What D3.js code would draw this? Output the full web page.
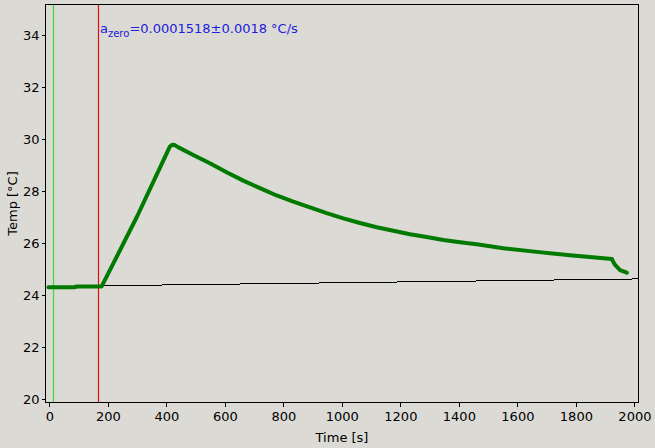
<!DOCTYPE html>
<html>
<head>
<meta charset="utf-8">
<script src="https://cdn.jsdelivr.net/npm/d3@7"></script>
<style>
  html, body { margin: 0; padding: 0; background: #dcdad5; }
  svg { display: block; font-family: "DejaVu Sans", sans-serif; }
</style>
</head>
<body>
<svg id="chart" width="655" height="448"></svg>
<script>
// ---- data ----
const timeS = [-3, 85, 95, 179, 300, 412, 420, 428, 440, 492, 549, 606, 663, 720, 777, 834, 891, 948, 1005, 1062, 1119, 1176, 1233, 1290, 1347, 1404, 1461, 1552, 1666, 1780, 1923, 1927, 1934, 1951, 1974];
const tempC = [24.31, 24.31, 24.34, 24.34, 27.03, 29.72, 29.79, 29.78, 29.70, 29.40, 29.08, 28.73, 28.41, 28.12, 27.84, 27.60, 27.38, 27.16, 26.96, 26.78, 26.62, 26.48, 26.35, 26.24, 26.13, 26.04, 25.96, 25.81, 25.67, 25.54, 25.40, 25.30, 25.17, 24.97, 24.87];
const driftT = [-3, 2014];
const driftC = [24.34, 24.63];
const markerT = [13.7, 167.5];           // green and red vertical markers
const xTicks = [0, 200, 400, 600, 800, 1000, 1200, 1400, 1600, 1800, 2000];
const yTicks = [20, 22, 24, 26, 28, 30, 32, 34];
const xLabel = "Time [s]";
const yLabel = "Temp [°C]";
const noteMain = "a";
const noteSub = "zero";
const noteRest = "=0.0001518±0.0018 °C/s";

// ---- layout ----
const L = 45.5, R = 638.5, T = 4.5, B = 402.5;
const svg = d3.select("#chart");
const x = d3.scaleLinear().domain([-13, 2014]).range([L, R]);
const y = d3.scaleLinear().domain([19.877, 35.185]).range([B, T]);

svg.append("rect").attr("width", 655).attr("height", 448).attr("fill", "#dcdad5");

// axes
const xAxis = d3.axisBottom(x).tickValues(xTicks).tickSize(4).tickSizeOuter(0).tickPadding(5).tickFormat(d3.format("d"));
const yAxis = d3.axisLeft(y).tickValues(yTicks).tickSize(4).tickSizeOuter(0).tickPadding(2).tickFormat(d3.format("d"));

const gx = svg.append("g").attr("transform", `translate(0,${B})`).call(xAxis);
const gy = svg.append("g").attr("transform", `translate(${L},0)`).call(yAxis);
[gx, gy].forEach(g => {
  g.select(".domain").remove();
  g.selectAll("text").attr("font-size", 13).attr("font-family", "DejaVu Sans, sans-serif").attr("fill", "#000");
  g.selectAll("line").attr("stroke", "#000").attr("shape-rendering", "crispEdges");
});

// marker lines
const markerColors = ["#33dd33", "#e01010"];
svg.selectAll(".marker").data(markerT).enter().append("line")
  .attr("x1", d => Math.round(x(d)) + 0.5).attr("x2", d => Math.round(x(d)) + 0.5)
  .attr("y1", T).attr("y2", B)
  .attr("stroke", (d, i) => markerColors[i]).attr("stroke-width", 1.2);

// drift line
const drift = driftT.map((t, i) => [t, driftC[i]]);
svg.append("path").datum(drift)
  .attr("d", d3.line().x(d => x(d[0])).y(d => y(d[1])))
  .attr("fill", "none").attr("stroke", "#000").attr("stroke-width", 1)
  .attr("shape-rendering", "crispEdges");

// temperature curve
const pts = timeS.map((t, i) => [t, tempC[i]]);
svg.append("path").datum(pts)
  .attr("d", d3.line().x(d => x(d[0])).y(d => y(d[1])))
  .attr("fill", "none").attr("stroke", "#007a00").attr("stroke-width", 4)
  .attr("stroke-linejoin", "round").attr("stroke-linecap", "round");

// frame
svg.append("rect").attr("x", L).attr("y", T).attr("width", R - L).attr("height", B - T)
  .attr("fill", "none").attr("stroke", "#000").attr("stroke-width", 1).attr("shape-rendering", "crispEdges");

// annotation
const note = svg.append("text").attr("x", 100).attr("y", 33).attr("fill", "#2020dc").attr("font-size", 13);
note.append("tspan").text(noteMain);
note.append("tspan").attr("font-size", 10).attr("dy", 3.5).text(noteSub);
note.append("tspan").attr("font-size", 13).attr("dy", -3.5).text(noteRest);

// axis titles
svg.append("text").attr("x", (L + R) / 2).attr("y", 441.5).attr("text-anchor", "middle")
  .attr("font-size", 13).attr("fill", "#000").text(xLabel);
svg.append("text").attr("transform", `translate(17,${(T + B) / 2}) rotate(-90)`).attr("text-anchor", "middle")
  .attr("font-size", 13).attr("fill", "#000").text(yLabel);
</script>
</body>
</html>
